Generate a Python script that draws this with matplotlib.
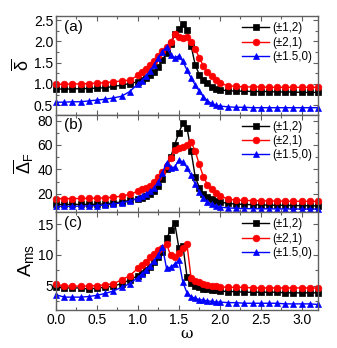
import matplotlib
matplotlib.use("Agg")
import matplotlib.pyplot as plt
from matplotlib.ticker import MultipleLocator, AutoMinorLocator

plt.rcParams['font.family'] = ['Liberation Sans', 'DejaVu Sans']
plt.rcParams['mathtext.fontset'] = 'custom'
plt.rcParams['mathtext.rm'] = 'Liberation Sans'
plt.rcParams['mathtext.it'] = 'Liberation Sans'

# common omega grid
omega = [0.0, 0.1, 0.2, 0.3, 0.4, 0.5, 0.6, 0.7, 0.8, 0.9,
         1.0, 1.05, 1.1, 1.15, 1.2, 1.25, 1.3, 1.35, 1.4, 1.45,
         1.5, 1.55, 1.6, 1.65, 1.7, 1.75, 1.8, 1.85, 1.9, 1.95,
         2.0, 2.1, 2.2, 2.3, 2.4, 2.5, 2.6, 2.7, 2.8, 2.9, 3.0, 3.1, 3.2]

labels = ['(±1,2)', '(±2,1)', '(±1.5,0)']

# panel (a): delta bar
delta_12 = [0.88, 0.88, 0.88, 0.89, 0.89, 0.90, 0.91, 0.94, 0.97, 1.01,
            1.05, 1.10, 1.15, 1.20, 1.28, 1.40, 1.56, 1.74, 1.93, 2.17,
            2.30, 2.42, 2.27, 1.90, 1.45, 1.22, 1.10, 1.02, 0.93, 0.89,
            0.86, 0.84, 0.83, 0.83, 0.82, 0.82, 0.82, 0.81, 0.81, 0.81, 0.80, 0.80, 0.80]
delta_21 = [0.99, 0.99, 1.00, 1.00, 1.01, 1.02, 1.03, 1.05, 1.07, 1.09,
            1.20, 1.27, 1.35, 1.44, 1.55, 1.66, 1.78, 1.88, 1.98, 2.18,
            2.10, 2.08, 2.10, 1.99, 1.82, 1.62, 1.42, 1.28, 1.18, 1.10,
            1.02, 0.96, 0.94, 0.93, 0.93, 0.93, 0.92, 0.92, 0.92, 0.92, 0.92, 0.92, 0.92]
delta_150 = [0.57, 0.57, 0.58, 0.58, 0.60, 0.62, 0.64, 0.67, 0.71, 0.82,
             1.00, 1.08, 1.18, 1.30, 1.45, 1.62, 1.76, 1.87, 1.68, 1.62,
             1.66, 1.53, 1.33, 1.14, 0.98, 0.83, 0.70, 0.60, 0.54, 0.50,
             0.48, 0.46, 0.45, 0.45, 0.44, 0.44, 0.44, 0.44, 0.44, 0.44, 0.44, 0.44, 0.44]

# panel (b): Delta_F bar
DF_12 = [11.2, 11.2, 11.2, 11.3, 11.3, 11.4, 11.6, 12.4, 13.3, 14.5,
         15.8, 16.8, 18.0, 19.5, 22.0, 26.0, 32.0, 40.0, 50.0, 60.0,
         70.0, 78.0, 74.0, 55.0, 34.0, 25.0, 20.0, 17.5, 15.5, 14.0,
         13.3, 12.0, 11.5, 11.2, 11.0, 10.8, 10.6, 10.5, 10.4, 10.3, 10.2, 10.1, 10.0]
DF_21 = [16.0, 16.0, 16.0, 16.1, 16.2, 16.3, 16.6, 17.2, 18.0, 19.5,
         22.0, 23.5, 25.0, 26.5, 30.0, 33.5, 38.0, 43.0, 49.0, 56.0,
         57.5, 58.5, 60.0, 62.5, 55.0, 44.0, 34.0, 27.5, 23.5, 20.5,
         18.5, 15.5, 14.8, 14.5, 14.3, 14.2, 14.1, 14.0, 13.9, 13.8, 13.8, 13.7, 13.7]
DF_150 = [9.6, 9.6, 9.7, 9.8, 10.0, 10.3, 10.8, 11.6, 12.5, 14.0,
          16.3, 17.8, 19.8, 22.0, 25.0, 29.5, 37.0, 45.5, 41.0, 42.0,
          47.5, 46.0, 41.5, 35.0, 28.0, 21.5, 16.7, 13.5, 11.2, 9.8,
          9.0, 8.4, 8.0, 7.8, 7.7, 7.6, 7.6, 7.5, 7.5, 7.5, 7.4, 7.4, 7.4]

# panel (c): A_ms
A_12 = [4.7, 4.6, 4.6, 4.6, 4.4, 4.6, 4.7, 4.9, 5.3, 5.9,
        6.6, 7.0, 7.5, 8.1, 8.8, 9.6, 10.4, 12.7, 14.0, 15.2,
        11.2, 11.5, 6.4, 5.4, 4.9, 4.7, 4.5, 4.4, 4.3, 4.2,
        4.1, 4.0, 4.0, 3.9, 3.9, 3.9, 3.9, 3.9, 3.8, 3.8, 3.8, 3.8, 3.8]
A_21 = [5.2, 4.9, 4.9, 4.9, 4.9, 5.0, 5.1, 5.3, 5.9, 6.6,
        7.8, 8.3, 8.9, 9.6, 10.2, 10.8, 11.2, 11.8, 9.9, 9.7,
        10.3, 11.1, 11.7, 6.2, 5.8, 5.5, 5.3, 5.1, 5.0, 4.9,
        4.8, 4.7, 4.7, 4.7, 4.6, 4.6, 4.6, 4.6, 4.6, 4.6, 4.6, 4.6, 4.6]
A_150 = [3.5, 3.1, 3.1, 3.1, 3.2, 3.4, 3.7, 4.1, 4.7, 5.3,
         6.3, 6.9, 7.5, 8.2, 9.0, 10.0, 11.3, 7.8, 8.0, 8.5,
         9.1, 5.5, 3.8, 3.2, 2.9, 2.7, 2.6, 2.5, 2.4, 2.3,
         2.3, 2.2, 2.2, 2.1, 2.1, 2.1, 2.1, 2.1, 2.0, 2.0, 2.0, 2.0, 1.9]

panels = [
    (delta_12, delta_21, delta_150, r'$\overline{\delta}$', '(a)', (0.28, 2.6), [0.5, 1.0, 1.5, 2.0, 2.5], '%.1f'),
    (DF_12, DF_21, DF_150, r'$\overline{\Delta}_{\rm F}$', '(b)', (5, 85), [20, 40, 60, 80], '%d'),
    (A_12, A_21, A_150, r'$\mathrm{A}_{\rm ms}$', '(c)', (1, 17), [5, 10, 15], '%d'),
]

fig = plt.figure(figsize=(3.37, 3.48), dpi=100)
W, H = 337.0, 348.0
left, right = 56 / W, 318 / W
tops = [16, 114.5, 212]
bots = [114.5, 212, 310]
colors = ['black', 'red', 'blue']
markers = ['s', 'o', '^']
msizes = [4.0, 4.8, 4.6]
spine_col = '#606060'

for i, (y1, y2, y3, ylab, tag, ylim, yticks, fmt) in enumerate(panels):
    ax = fig.add_axes([left, 1 - bots[i] / H, right - left, (bots[i] - tops[i]) / H])
    for ys, c, m, ms, lab in zip((y1, y2, y3), colors, markers, msizes, labels):
        ax.plot(omega, ys, color=c, marker=m, markersize=ms, linewidth=1.0,
                label=lab, clip_on=False, markeredgewidth=0.5)
    ax.set_xlim(0, 3.2)
    ax.set_ylim(*ylim)
    ax.set_yticks(yticks)
    ax.set_yticklabels([fmt % t for t in yticks])
    ax.yaxis.set_minor_locator(AutoMinorLocator(2))
    ax.xaxis.set_major_locator(MultipleLocator(0.5))
    ax.xaxis.set_minor_locator(AutoMinorLocator(2))
    ax.tick_params(which='both', direction='in', top=True, right=True,
                   labelsize=10, color=spine_col, width=0.8, pad=2)
    ax.tick_params(which='major', length=3.5)
    ax.tick_params(which='minor', length=2)
    for s in ax.spines.values():
        s.set_color(spine_col)
        s.set_linewidth(1.0)
    if i < 2:
        ax.tick_params(labelbottom=False)
    else:
        ax.set_xticklabels(['%.1f' % t for t in ax.get_xticks()])
        ax.set_xlabel('ω', fontsize=11, labelpad=0, fontfamily='DejaVu Serif')
    ax.text(0.03, 0.96, tag, transform=ax.transAxes, fontsize=11, va='top', ha='left')
    ysize = 14 if i == 2 else 13
    ax.set_ylabel(ylab, fontsize=ysize, labelpad=1)
    ax.legend(loc='upper right', frameon=False, fontsize=8.3, handlelength=2.4,
              handletextpad=0.2, labelspacing=0.2, borderaxespad=0.35,
              borderpad=0.2, markerscale=1.0)

fig.savefig('out.png', dpi=100)
